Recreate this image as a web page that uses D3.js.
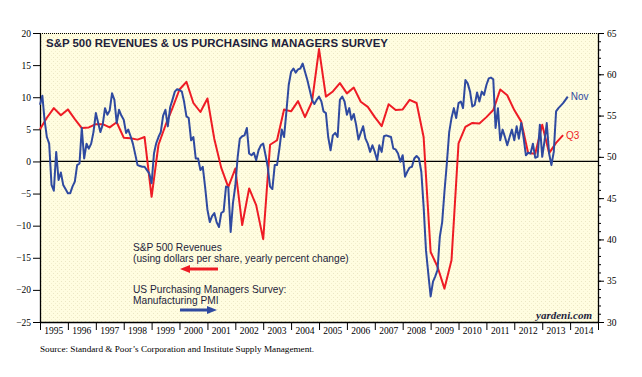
<!DOCTYPE html>
<html>
<head>
<meta charset="utf-8">
<script src="https://cdn.jsdelivr.net/npm/d3@7"></script>
<style>
  body { margin: 0; background: #fff; }
  svg { display: block; }
</style>
</head>
<body>
<div id="chart"></div>
<script>
// ISM manufacturing PMI, monthly, Dec 1994 .. Nov 2013 (right axis)
const pmiValues = [
  56.3, 57.4, 54.5, 52.4, 51.6, 46.6, 45.9, 50.6, 47.2, 48.1, 46.6, 46.1,
  45.6, 45.6, 46.4, 47.0, 49.0, 49.2, 53.5, 49.8, 51.6, 51.0, 51.6, 53.0,
  55.3, 54.1, 53.0, 53.9, 55.9, 55.1, 55.6, 57.7, 56.9, 54.1, 55.7, 55.0,
  54.5, 52.9, 53.3, 52.5, 51.6, 50.3, 49.0, 48.9, 48.8, 48.8, 48.4, 48.0,
  46.8, 50.4, 51.6, 52.4, 53.0, 55.0, 55.7, 53.7, 56.0, 56.9, 57.9, 58.2,
  58.1, 57.9, 56.7, 54.9, 54.7, 52.0, 52.4, 49.8, 49.8, 48.4, 48.8, 46.4,
  43.6, 42.1, 42.8, 43.2, 42.1, 41.5, 43.2, 43.4, 46.4, 46.3, 40.9, 44.4,
  46.5, 50.0, 52.2, 52.5, 52.6, 53.5, 50.4, 50.2, 50.5, 49.6, 50.8, 51.4,
  51.6, 50.2, 48.8, 46.4, 46.1, 49.0, 49.0, 51.0, 53.3, 52.4, 55.5, 58.7,
  60.3, 60.7, 60.2, 60.6, 60.7, 61.3, 60.3, 59.3, 58.1, 56.9, 56.4, 56.9,
  57.3, 56.7, 55.5, 55.3, 52.4, 50.8, 52.6, 52.9, 52.4, 56.9, 57.3, 56.7,
  55.1, 55.9, 54.5, 55.2, 53.9, 52.1, 52.9, 53.7, 52.2, 51.6, 50.6, 51.4,
  50.6, 49.6, 51.4, 50.6, 52.5, 52.6, 52.5, 52.4, 51.0, 50.9, 50.4, 49.4,
  50.2, 47.6, 48.2, 48.7, 48.8, 49.8, 50.1, 49.8, 48.2, 44.0, 38.7, 35.9,
  33.1, 34.9, 35.5, 36.3, 40.3, 42.1, 45.8, 49.2, 53.0, 54.7, 55.9, 54.7,
  56.5, 56.7, 55.9, 59.3, 58.9, 57.9, 56.1, 56.3, 57.8, 56.7, 57.9, 57.5,
  58.7, 59.5, 59.6, 59.4, 53.5, 55.9, 52.0, 53.3, 52.4, 51.4, 52.4, 53.3,
  52.0, 53.7, 52.2, 54.1, 52.4, 50.2, 50.5, 50.4, 51.6, 49.9, 50.0, 53.9,
  50.0, 52.0, 54.1, 50.4, 49.0, 50.6, 55.5, 55.9, 56.2, 56.5, 56.9, 57.3
];

// S&P 500 revenues per share, y/y %, quarterly, Q4 1994 .. Q3 2013 (left axis)
const revenueValues = [
  5.0, 6.8, 8.3, 7.2, 8.1, 6.6, 5.2, 5.3, 5.8, 5.8,
  5.3, 6.1, 3.7, 3.6, 3.4, 3.8, -5.5, 2.6, 5.6, 8.3,
  11.2, 12.4, 9.1, 7.7, 9.8, 3.5, -1.0, -4.0, -1.1, -9.9,
  -4.2, -6.8, -12.1, 2.6, 3.3, 8.1, 7.8, 9.4, 6.9, 9.3,
  17.5, 10.1, 10.9, 12.2, 10.6, 11.5, 9.3, 8.5, 6.9, 5.5,
  8.9, 8.0, 8.1, 9.6, 9.1, 3.8, -14.1, -16.4, -19.8, -15.4,
  2.8, 5.4, 6.0, 5.9, 6.9, 8.0, 11.2, 10.3, 8.0, 6.2,
  1.3, 1.2, 5.7, 1.3, 2.9, 4.1
];

const leftTicks = [-25, -20, -15, -10, -5, 0, 5, 10, 15, 20];
const rightTicks = [30, 35, 40, 45, 50, 55, 60, 65];
const yearLabels = ['1995','1996','1997','1998','1999','2000','2001','2002','2003','2004',
                    '2005','2006','2007','2008','2009','2010','2011','2012','2013','2014'];

const width = 642, height = 377;
const plot = { left: 40, right: 598, top: 33, bottom: 322 };
const redColor = '#ee1c25', blueColor = '#2f4aa0', inkColor = '#1e1e3c';
const serif = '"Liberation Serif", "Times New Roman", serif';
const sans = '"Liberation Sans", Arial, sans-serif';

const start = new Date(1995, 0, 1);
const pmi = pmiValues.map((v, i) => ({ date: d3.timeMonth.offset(start, i), value: v }));
const revenue = revenueValues.map((v, i) => ({ date: d3.timeMonth.offset(start, 3 * i), value: v }));

const x = d3.scaleTime()
  .domain([start, new Date(2015, 0, 1)])
  .range([plot.left, plot.right]);
const yL = d3.scaleLinear().domain([-25, 20]).range([plot.bottom, plot.top]);
const yR = d3.scaleLinear().domain([30, 65]).range([plot.bottom, plot.top]);

const svg = d3.select('#chart').append('svg')
  .attr('width', width)
  .attr('height', height);

// stippled pale yellow fill
const defs = svg.append('defs');
const pat = defs.append('pattern')
  .attr('id', 'stipple')
  .attr('width', 4).attr('height', 4)
  .attr('patternUnits', 'userSpaceOnUse');
pat.append('rect').attr('width', 4).attr('height', 4).attr('fill', '#fffde0');
pat.append('rect').attr('x', 1).attr('y', 1).attr('width', 1).attr('height', 1).attr('fill', '#ebe7c4');
pat.append('rect').attr('x', 3).attr('y', 3).attr('width', 1).attr('height', 1).attr('fill', '#f2eecd');

svg.append('rect')
  .attr('x', plot.left).attr('y', plot.top)
  .attr('width', plot.right - plot.left)
  .attr('height', plot.bottom - plot.top)
  .attr('fill', 'url(#stipple)');

// dotted top border
svg.append('line')
  .attr('x1', plot.left).attr('x2', plot.right)
  .attr('y1', plot.top + 0.5).attr('y2', plot.top + 0.5)
  .attr('stroke', '#000').attr('stroke-dasharray', '1,1');

// zero line
svg.append('line')
  .attr('x1', plot.left).attr('x2', plot.right)
  .attr('y1', yL(0)).attr('y2', yL(0))
  .attr('stroke', '#000').attr('stroke-width', 1.2);

// axes
const styleAxis = g => g
  .attr('font-family', serif)
  .attr('font-size', 9.5)
  .call(g => g.select('.domain').attr('stroke', '#000').attr('stroke-width', 1.3))
  .call(g => g.selectAll('.tick line').attr('stroke', '#000'))
  .call(g => g.selectAll('.tick text').attr('fill', '#000'));

svg.append('g')
  .attr('transform', `translate(${plot.left},0)`)
  .call(d3.axisLeft(yL).tickValues(leftTicks).tickSize(7).tickSizeOuter(0).tickPadding(2))
  .call(styleAxis);

svg.append('g')
  .attr('transform', `translate(${plot.right},0)`)
  .call(d3.axisRight(yR).tickValues(d3.range(30, 66)).tickSize(3).tickSizeOuter(0).tickFormat(''))
  .call(g => g.select('.domain').remove())
  .call(g => g.selectAll('.tick line').attr('stroke', '#000'));

svg.append('g')
  .attr('transform', `translate(${plot.right},0)`)
  .call(d3.axisRight(yR).tickValues(rightTicks).tickSize(6).tickSizeOuter(0).tickPadding(3))
  .call(styleAxis);

const yearEdges = d3.range(1995, 2016).map(y => new Date(y, 0, 1));
svg.append('g')
  .attr('transform', `translate(0,${plot.bottom})`)
  .call(d3.axisBottom(x).tickValues(yearEdges).tickSize(8).tickSizeOuter(0).tickFormat(''))
  .call(styleAxis);

svg.append('g')
  .selectAll('text')
  .data(yearLabels)
  .join('text')
  .attr('x', d => x(new Date(+d, 6, 1)))
  .attr('y', 334)
  .attr('text-anchor', 'middle')
  .attr('font-family', serif)
  .attr('font-size', 9.5)
  .text(d => d);

// series
const line = (scale) => d3.line().x(d => x(d.date)).y(d => scale(d.value));

svg.append('path')
  .datum(revenue)
  .attr('d', line(yL))
  .attr('fill', 'none')
  .attr('stroke', redColor)
  .attr('stroke-width', 2)
  .attr('stroke-linejoin', 'round');

svg.append('path')
  .datum(pmi)
  .attr('d', line(yR))
  .attr('fill', 'none')
  .attr('stroke', blueColor)
  .attr('stroke-width', 2)
  .attr('stroke-linejoin', 'round');

// end labels
const lastPmi = pmi[pmi.length - 1];
const lastRev = revenue[revenue.length - 1];
svg.append('text')
  .attr('x', x(lastPmi.date) + 3).attr('y', yR(lastPmi.value) + 3)
  .attr('font-family', sans).attr('font-size', 10)
  .attr('fill', blueColor)
  .text('Nov');
svg.append('text')
  .attr('x', x(lastRev.date) + 3).attr('y', yL(lastRev.value) + 4)
  .attr('font-family', sans).attr('font-size', 10)
  .attr('fill', redColor)
  .text('Q3');

// title
svg.append('text')
  .attr('x', 46).attr('y', 47)
  .attr('font-family', sans).attr('font-weight', 'bold').attr('font-size', 11.5)
  .attr('fill', inkColor)
  .attr('textLength', 342).attr('lengthAdjust', 'spacingAndGlyphs')
  .text('S&P 500 REVENUES & US PURCHASING MANAGERS SURVEY');

// legend
const legend = svg.append('g')
  .attr('font-family', sans).attr('font-size', 10.2).attr('fill', inkColor);
legend.append('text').attr('x', 133).attr('y', 251).text('S&P 500 Revenues');
legend.append('text').attr('x', 133).attr('y', 262).text('(using dollars per share, yearly percent change)');
legend.append('text').attr('x', 133).attr('y', 293).text('US Purchasing Managers Survey:');
legend.append('text').attr('x', 133).attr('y', 304).text('Manufacturing PMI');

legend.append('line')
  .attr('x1', 187).attr('x2', 218).attr('y1', 269).attr('y2', 269)
  .attr('stroke', redColor).attr('stroke-width', 3);
legend.append('path')
  .attr('d', 'M180,269 L190,265 L190,273 Z')
  .attr('fill', redColor);

legend.append('line')
  .attr('x1', 180).attr('x2', 210).attr('y1', 310).attr('y2', 310)
  .attr('stroke', blueColor).attr('stroke-width', 3);
legend.append('path')
  .attr('d', 'M217,310 L207,306 L207,314 Z')
  .attr('fill', blueColor);

// credit and source
svg.append('text')
  .attr('x', 592).attr('y', 319)
  .attr('text-anchor', 'end')
  .attr('font-family', serif).attr('font-style', 'italic').attr('font-weight', 'bold')
  .attr('font-size', 11)
  .attr('fill', inkColor)
  .text('yardeni.com');

svg.append('text')
  .attr('x', 40).attr('y', 352)
  .attr('font-family', serif).attr('font-size', 9.2)
  .attr('fill', '#000')
  .text('Source: Standard & Poor\u2019s Corporation and Institute Supply Management.');
</script>
</body>
</html>
